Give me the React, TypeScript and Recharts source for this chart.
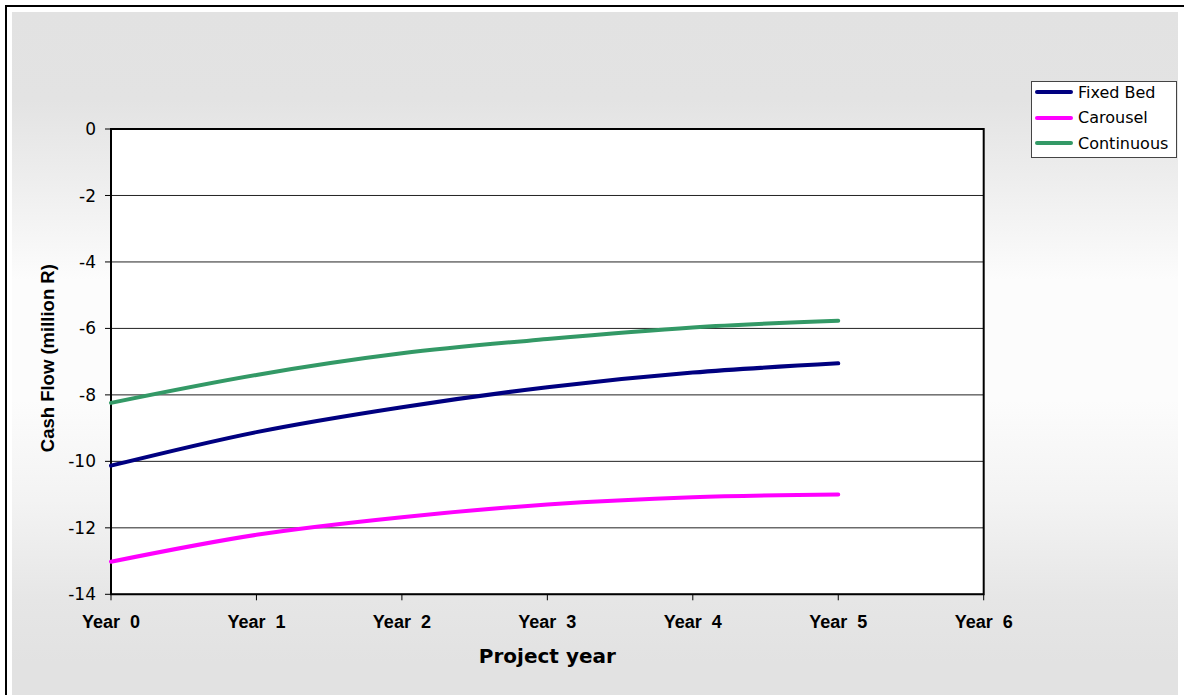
import { LineChart, Line, XAxis, YAxis, CartesianGrid, ReferenceArea, Legend, Label } from "recharts";

// cash flow per project year, million R
const years = [0, 1, 2, 3, 4, 5];
const fixedBed = [-10.13, -9.12, -8.37, -7.77, -7.33, -7.05];
const carousel = [-13.02, -12.21, -11.68, -11.3, -11.08, -11.0];
const continuous = [-8.24, -7.4, -6.75, -6.32, -5.97, -5.77];

const xTicks = [0, 1, 2, 3, 4, 5, 6];
const xTickLabels = [
  "Year\u00a0\u00a00",
  "Year\u00a0\u00a01",
  "Year\u00a0\u00a02",
  "Year\u00a0\u00a03",
  "Year\u00a0\u00a04",
  "Year\u00a0\u00a05",
  "Year\u00a0\u00a06",
];
const yTicks = [-14, -12, -10, -8, -6, -4, -2, 0];

const SERIES = [
  { key: "fixedBed", name: "Fixed Bed", color: "#000080" },
  { key: "carousel", name: "Carousel", color: "#FF00FF" },
  { key: "continuous", name: "Continuous", color: "#339966" },
];

const data = years.map((year, i) => ({
  year,
  fixedBed: fixedBed[i],
  carousel: carousel[i],
  continuous: continuous[i],
}));

const W = 1184;
const H = 695;

function LegendBox() {
  return (
    <div style={{ width: 144, height: 75, border: "1px solid #444", background: "#fff", position: "relative" }}>
      {SERIES.map((s, i) => (
        <div
          key={s.key}
          style={{ position: "absolute", left: 3, top: 0.6 + i * 25.5, height: 20, display: "flex", alignItems: "center" }}
        >
          <span style={{ display: "inline-block", width: 38, height: 4, background: s.color, borderRadius: 2, marginRight: 5 }} />
          <span style={{ font: "16px 'DejaVu Sans'", color: "#000", whiteSpace: "nowrap" }}>{s.name}</span>
        </div>
      ))}
    </div>
  );
}

function YTitle({ viewBox }: any) {
  const cx = viewBox.x - 3.5;
  const cy = viewBox.y + viewBox.height / 2 - 3.5;
  return (
    <text
      x={cx}
      y={cy}
      transform={`rotate(-90, ${cx}, ${cy})`}
      textAnchor="middle"
      dominantBaseline="central"
      style={{ font: "bold 18.5px 'Liberation Sans'", fill: "#000" }}
    >
      Cash Flow (million R)
    </text>
  );
}

function XTitle({ viewBox }: any) {
  const cx = viewBox.x + viewBox.width / 2;
  return (
    <text x={cx} y={viewBox.y + 68.7} textAnchor="middle" style={{ font: "bold 20px 'DejaVu Sans'", fill: "#000" }}>
      Project year
    </text>
  );
}

export default function App() {
  return (
    <div style={{ position: "absolute", left: 0, top: 0, width: W, height: H, background: "#fff", overflow: "hidden" }}>
      <div style={{ position: "absolute", left: 5, top: 5, width: 1200, height: 720, border: "2px solid #000" }} />
      <div
        style={{
          position: "absolute",
          left: 12,
          top: 12,
          width: 1166,
          height: 700,
          background:
            "linear-gradient(to bottom, #e2e2e2 0px, #e3e3e3 88px, #efefef 178px, #fcfcfc 268px, #fcfcfc 388px, #f3f3f3 488px, #e6e6e6 588px, #e2e2e2 650px)",
        }}
      />
      <div style={{ position: "absolute", left: 0, top: 0 }}>
        <LineChart width={W} height={H} data={data} margin={{ top: 129, right: 200.3, bottom: 70.7, left: 51 }}>
          <CartesianGrid vertical={false} stroke="#222" fill="#fff" fillOpacity={1} />
          <XAxis
            dataKey="year"
            type="number"
            domain={[0, 6]}
            ticks={xTicks}
            interval={0}
            height={30}
            axisLine={false}
            tickLine={{ stroke: "#000" }}
            tickSize={6}
            tickMargin={15}
            tickFormatter={(v: number) => xTickLabels[v]}
            tick={{ fill: "#000", fontSize: 18, fontWeight: "bold", fontFamily: "Liberation Sans" }}
          >
            <Label content={XTitle} />
          </XAxis>
          <YAxis
            type="number"
            domain={[-14, 0]}
            ticks={yTicks}
            interval={0}
            width={60}
            axisLine={false}
            tickLine={{ stroke: "#000" }}
            tickSize={6}
            tickMargin={9}
            tick={{ fill: "#000", fontSize: 17, fontFamily: "DejaVu Sans" }}
          >
            <Label content={YTitle} />
          </YAxis>
          <ReferenceArea x1={0} x2={6} y1={-14} y2={0} fill="none" stroke="#000" strokeWidth={2} ifOverflow="visible" />
          {SERIES.map((s) => (
            <Line
              key={s.key}
              type="monotone"
              dataKey={s.key}
              name={s.name}
              stroke={s.color}
              strokeWidth={4}
              strokeLinecap="round"
              dot={false}
              activeDot={false}
              isAnimationActive={false}
            />
          ))}
          <Legend
            layout="horizontal"
            verticalAlign="middle"
            align="center"
            content={() => <LegendBox />}
            wrapperStyle={{ left: 1031, top: 80.7, width: 146, height: 77 }}
          />
        </LineChart>
      </div>
    </div>
  );
}
